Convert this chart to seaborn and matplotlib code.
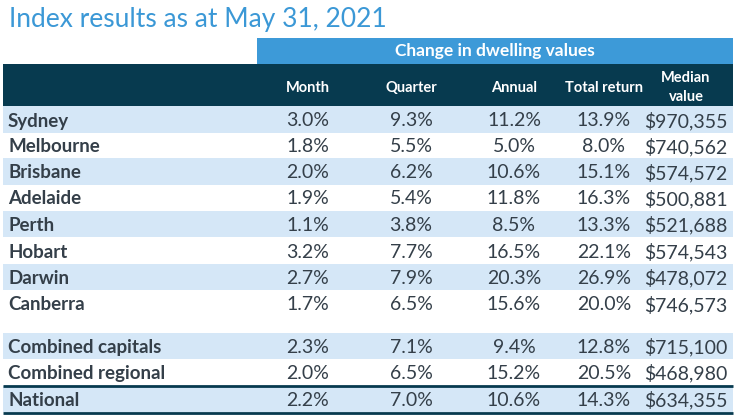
import matplotlib
matplotlib.use("Agg")
import matplotlib.pyplot as plt
import seaborn as sns
from matplotlib.patches import Rectangle

# ---- data ----
title = "Index results as at May 31, 2021"
group_header = "Change in dwelling values"
columns = ["Month", "Quarter", "Annual", "Total return", "Median\nvalue"]
regions = ["Sydney", "Melbourne", "Brisbane", "Adelaide", "Perth", "Hobart",
           "Darwin", "Canberra", "Combined capitals", "Combined regional", "National"]
month = [3.0, 1.8, 2.0, 1.9, 1.1, 3.2, 2.7, 1.7, 2.3, 2.0, 2.2]
quarter = [9.3, 5.5, 6.2, 5.4, 3.8, 7.7, 7.9, 6.5, 7.1, 6.5, 7.0]
annual = [11.2, 5.0, 10.6, 11.8, 8.5, 16.5, 20.3, 15.6, 9.4, 15.2, 10.6]
total_return = [13.9, 8.0, 15.1, 16.3, 13.3, 22.1, 26.9, 20.0, 12.8, 20.5, 14.3]
median_value = [970355, 740562, 574572, 500881, 521688, 574543, 478072, 746573,
                715100, 468980, 634355]

sns.set_theme(style="white")
plt.rcParams["font.family"] = ["Lato", "DejaVu Sans"]

W, H = 737, 420
fig = plt.figure(figsize=(W / 100, H / 100), dpi=100)
ax = fig.add_axes([0, 0, 1, 1])
ax.set_xlim(0, W)
ax.set_ylim(H, 0)
ax.axis("off")

title_c = "#3b98d6"
band_c = "#3d9ad8"
dark_c = "#073a4f"
stripe_c = "#d5e7f7"
text_c = "#343f49"

ax.text(9, 20, title, fontsize=19, color=title_c, va="center", ha="left",
        fontweight="normal")

left, right = 3, 733
# group header band
ax.add_patch(Rectangle((257, 38), right - 257, 26, color=band_c, lw=0))
ax.text((257 + right) / 2, 51, group_header, color="white", fontsize=12.5,
        fontweight="bold", ha="center", va="center")
# dark header
ax.add_patch(Rectangle((left, 64), right - left, 43, color=dark_c, lw=0))
col_x = [308, 411, 514, 604, 686]
for cx, name in zip(col_x, columns):
    ax.text(cx, 87.5, name, color="white", fontsize=10.5, fontweight="bold",
            ha="center", va="center", linespacing=1.45)

row_y = [119.5, 145.5, 171.5, 197.5, 224, 250.5, 277, 303.5, 346, 372, 399]
row_h = 26.4
text_dy = 1.5
for i, (r, y) in enumerate(zip(regions, row_y)):
    if i % 2 == 0:
        ax.add_patch(Rectangle((left, y - row_h / 2), right - left, row_h,
                               color=stripe_c, lw=0))
    ax.text(8, y + text_dy, r, color=text_c, fontsize=13.5, fontweight="bold",
            ha="left", va="center")
    vals = [f"{month[i]:.1f}%", f"{quarter[i]:.1f}%", f"{annual[i]:.1f}%",
            f"{total_return[i]:.1f}%", f"${median_value[i]:,}"]
    for cx, v in zip(col_x, vals):
        ax.text(cx, y + text_dy, v, color=text_c, fontsize=14, ha="center",
                va="center")

ax.plot([left, right], [386, 386], color=dark_c, lw=2, solid_capstyle="butt")
ax.plot([left, right], [413, 413], color=dark_c, lw=2, solid_capstyle="butt")

fig.savefig("out.png", dpi=100)
